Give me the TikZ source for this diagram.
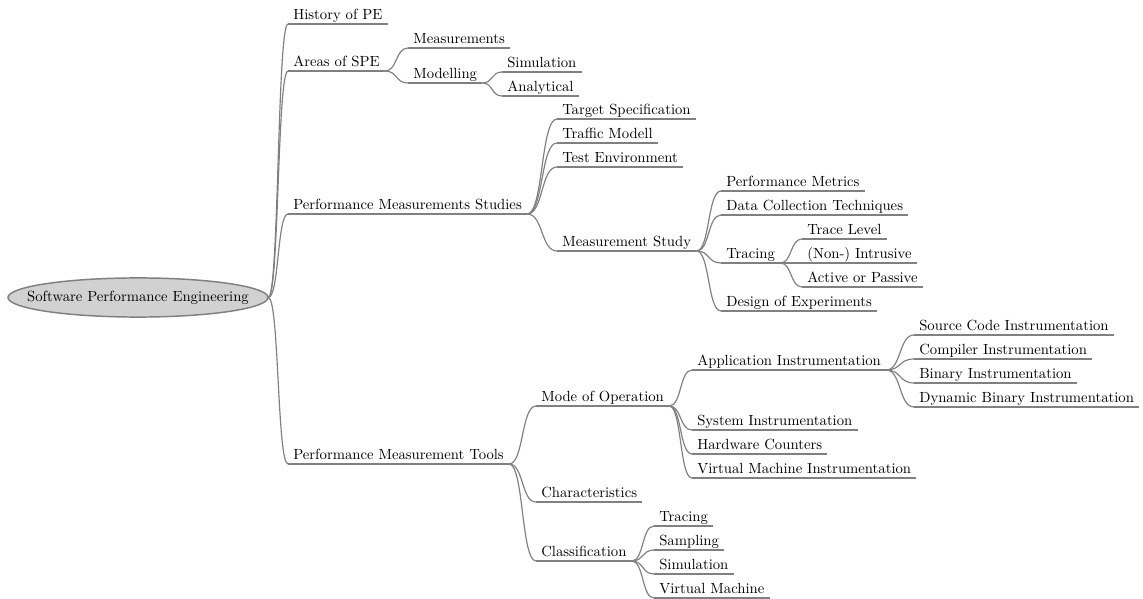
\documentclass[tikz,border=0pt]{standalone}
\usetikzlibrary{calc}

% curved branch from the end of a parent's underline to the start of a child's
\newcommand\mmbranch[2]{%
  \draw[branch] let \p1=(#1), \p2=(#2) in
    (\p1) .. controls ({\x1+0.55*(\x2-\x1)},\y1) and ({\x2-0.55*(\x2-\x1)},\y2) .. (\p2);}

\tikzset{
  branch/.style={draw=black!50, line width=0.8pt},
  uline/.style={draw=black!50, line width=0.8pt},
  topic/.style={anchor=south west, inner xsep=3.4pt, inner ysep=2.7pt,
    text depth=0pt, text height=7pt, font=\normalsize},
  rootshape/.style={draw=black!50, line width=1pt, fill=black!18},
  rootnode/.style={minimum width=176.8pt, minimum height=26.5pt, inner sep=0pt}
}

\begin{document}
\begin{tikzpicture}[x=0.68pt, y=-0.68pt]
\useasboundingbox (0,0) rectangle (1143,599);

% central topic: grey ellipse with its title
\coordinate (rootc) at (138,297.5);
\draw[rootshape] (rootc) ellipse [x radius=88.4pt, y radius=13.3pt];
\node[rootnode] (root) at (rootc) {Software Performance Engineering};

% first level
\node[topic] (hist)  at (288,24)  {History of PE};
\node[topic] (areas) at (288,71)  {Areas of SPE};
\node[topic] (pms)   at (288,214) {Performance Measurements Studies};
\node[topic] (pmt)   at (288,464) {Performance Measurement Tools};

% areas of SPE
\node[topic] (meas)  at (408,48)  {Measurements};
\node[topic] (model) at (408,83)  {Modelling};
\node[topic] (sim)   at (502,72)  {Simulation};
\node[topic] (ana)   at (502,96)  {Analytical};

% measurement studies
\node[topic] (ts) at (557,119) {Target Specification};
\node[topic] (tm) at (557,143) {Traffic Modell};
\node[topic] (te) at (557,167) {Test Environment};
\node[topic] (ms) at (557,251) {Measurement Study};
\node[topic] (pm) at (721,191) {Performance Metrics};
\node[topic] (dc) at (721,215) {Data Collection Techniques};
\node[topic] (tr) at (721,263) {Tracing};
\node[topic] (de) at (721,311) {Design of Experiments};
\node[topic] (tl) at (802,239) {Trace Level};
\node[topic] (ni) at (802,263) {(Non-) Intrusive};
\node[topic] (ap) at (802,287) {Active or Passive};

% measurement tools
\node[topic] (mo)  at (536,406) {Mode of Operation};
\node[topic] (ch)  at (536,502) {Characteristics};
\node[topic] (cl)  at (536,561) {Classification};
\node[topic] (ai)  at (692,370) {Application Instrumentation};
\node[topic] (si)  at (692,430) {System Instrumentation};
\node[topic] (hc)  at (692,454) {Hardware Counters};
\node[topic] (vmi) at (692,478) {Virtual Machine Instrumentation};
\node[topic] (sc)  at (914,335) {Source Code Instrumentation};
\node[topic] (ci)  at (914,359) {Compiler Instrumentation};
\node[topic] (bi)  at (914,383) {Binary Instrumentation};
\node[topic] (dbi) at (914,407) {Dynamic Binary Instrumentation};
\node[topic] (ctr) at (654,526) {Tracing};
\node[topic] (csa) at (654,550) {Sampling};
\node[topic] (csi) at (654,574) {Simulation};
\node[topic] (cvm) at (654,598) {Virtual Machine};

% underlines
\foreach \n in {hist,areas,pms,pmt,meas,model,sim,ana,ts,tm,te,ms,pm,dc,tr,de,
  tl,ni,ap,mo,ch,cl,ai,si,hc,vmi,sc,ci,bi,dbi,ctr,csa,csi,cvm}
  \draw[uline] (\n.south west) -- (\n.south east);

% branches
\foreach \c in {hist,areas,pms,pmt} {\mmbranch{root.east}{\c.south west}}
\foreach \c in {meas,model} {\mmbranch{areas.south east}{\c.south west}}
\foreach \c in {sim,ana} {\mmbranch{model.south east}{\c.south west}}
\foreach \c in {ts,tm,te,ms} {\mmbranch{pms.south east}{\c.south west}}
\foreach \c in {pm,dc,tr,de} {\mmbranch{ms.south east}{\c.south west}}
\foreach \c in {tl,ni,ap} {\mmbranch{tr.south east}{\c.south west}}
\foreach \c in {mo,ch,cl} {\mmbranch{pmt.south east}{\c.south west}}
\foreach \c in {ai,si,hc,vmi} {\mmbranch{mo.south east}{\c.south west}}
\foreach \c in {sc,ci,bi,dbi} {\mmbranch{ai.south east}{\c.south west}}
\foreach \c in {ctr,csa,csi,cvm} {\mmbranch{cl.south east}{\c.south west}}
\end{tikzpicture}
\end{document}
